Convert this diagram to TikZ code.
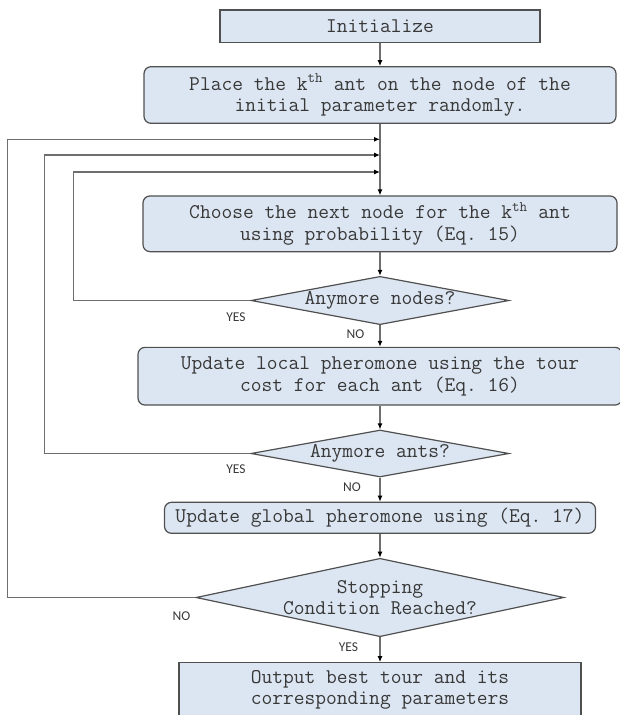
\documentclass[tikz,border=0pt]{standalone}
\usepackage{fontspec}
\usetikzlibrary{shapes.geometric,arrows.meta}
\newfontfamily\yesnofont{Carlito}
\definecolor{boxfill}{HTML}{DCE6F2}
\definecolor{boxline}{HTML}{505050}
\definecolor{flowline}{HTML}{6E6E6E}
\definecolor{boxtext}{HTML}{383838}
\tikzset{>={Latex[length=6pt,width=5pt,black]}}
\frenchspacing

\begin{document}
\begin{tikzpicture}[x=1pt,y=-1pt]
\useasboundingbox (0,0) rectangle (620,715);
\begin{scope}[every node/.style={draw=boxline,fill=boxfill,line width=1.2pt,text=boxtext,
        font=\ttfamily\fontsize{20.9}{21.5}\selectfont,align=center,inner sep=0pt},
    sq/.style={rectangle},
    rd/.style={rectangle,rounded corners=7pt},
    dm/.style={diamond,aspect=#1}]
\node[sq,minimum width=320pt,minimum height=32.7pt] (init) at (380,26.3) {Initialize};
\node[rd,minimum width=472pt,minimum height=56.6pt] (place) at (380,95) {Place the k\textsuperscript{th} ant on the node of the\\initial parameter randomly.};
\node[rd,minimum width=474pt,minimum height=55.7pt] (choose) at (380,223.8) {Choose the next node for the k\textsuperscript{th} ant\\using probability (Eq. 15)};
\node[dm=5.34,minimum width=258pt,minimum height=48.3pt] (qnodes) at (380,300.5) {Anymore nodes?};
\node[rd,minimum width=484pt,minimum height=57.7pt] (local) at (380,376.2) {Update local pheromone using the tour\\cost for each ant (Eq. 16)};
\node[dm=5.34,minimum width=258pt,minimum height=47pt] (qants) at (380,453.5) {Anymore ants?};
\node[rd,minimum width=431pt,minimum height=31pt] (global) at (380,517.8) {Update global pheromone using (Eq. 17)};
\node[dm=4.69,minimum width=368pt,minimum height=78.4pt] (qstop) at (380,597.5) {Stopping\\Condition Reached?};
\node[sq,minimum width=402pt,minimum height=54pt] (output) at (380,689.7) {Output best tour and its\\corresponding parameters};
\end{scope}

% loop-back joints on the main line
\coordinate (j1) at (380,139.3);
\coordinate (j2) at (380,155);
\coordinate (j3) at (380,172);

\begin{scope}[every node/.style={text=boxtext,font=\yesnofont\fontsize{13.5}{14}\selectfont},
    every edge/.style={draw=flowline,line width=1.1pt}]
    \path [->] (init) edge (place);
    \path [->] (place) edge (choose);
    \path [->] (choose) edge (qnodes);
    \path [->] (qnodes) edge (local);
    \path [->] (local) edge (qants);
    \path [->] (qants) edge (global);
    \path [->] (global) edge (qstop);
    \path [->] (qstop) edge (output);

    \draw [->,flowline,line width=1.1pt] (qnodes.west) -- ++(-177,0) |- (j3);
    \draw [->,flowline,line width=1.1pt] (qants.west) -- ++(-205.5,0) |- (j2);
    \draw [->,flowline,line width=1.1pt] (qstop.west) -- ++(-188,0) |- (j1);

    \node (yes1) at (236,317.3) {YES};
    \node (no1) at (355.5,334) {NO};
    \node (yes2) at (236,469.3) {YES};
    \node (no2) at (352,486.7) {NO};
    \node (no3) at (181.5,616) {NO};
    \node (yes3) at (348.5,646.7) {YES};
\end{scope}
\end{tikzpicture}
\end{document}
